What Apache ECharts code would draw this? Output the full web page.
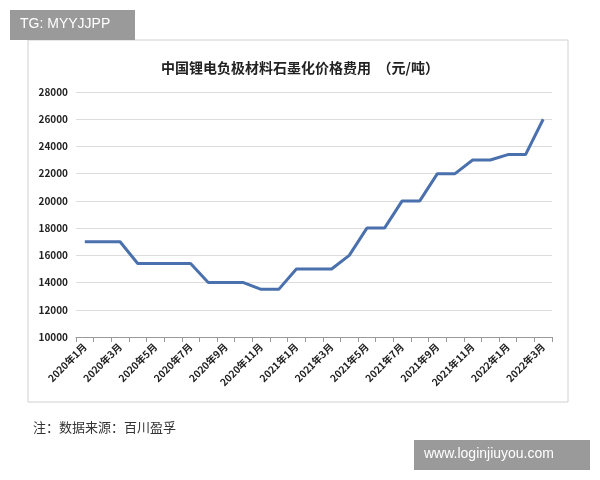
<!DOCTYPE html>
<html><head><meta charset="utf-8">
<script src="https://cdn.jsdelivr.net/npm/echarts@6/dist/echarts.min.js"></script>
<style>body{margin:0;background:#fff}#c{width:600px;height:480px}</style>
</head><body><div id="c"></div>
<script>
const categories=["2020年1月","2020年2月","2020年3月","2020年4月","2020年5月","2020年6月","2020年7月","2020年8月","2020年9月","2020年10月","2020年11月","2020年12月","2021年1月","2021年2月","2021年3月","2021年4月","2021年5月","2021年6月","2021年7月","2021年8月","2021年9月","2021年10月","2021年11月","2021年12月","2022年1月","2022年2月","2022年3月"];
const prices=[17000,17000,17000,15400,15400,15400,15400,14000,14000,14000,13500,13500,15000,15000,15000,16000,18000,18000,20000,20000,22000,22000,23000,23000,23400,23400,26000];
const chart=echarts.init(document.getElementById('c'));
const serif='"Noto Sans CJK SC", serif';
chart.setOption({
  animation:false,
  title:{text:'中国锂电负极材料石墨化价格费用  （元/吨）',left:'center',top:56,textStyle:{fontFamily:serif,fontSize:14,fontWeight:'bold',color:'#222'}},
  graphic:[
    {type:'rect',shape:{x:28,y:40,width:540,height:362},style:{fill:'none',stroke:'#d0d0d0',lineWidth:1}},
    {type:'rect',shape:{x:10,y:10,width:125,height:30},style:{fill:'#9a9a9a'}},
    {type:'text',left:20,top:17,style:{text:'TG: MYYJJPP',fill:'#fff',font:'14px sans-serif'}},
    {type:'text',left:33,top:421,style:{text:'注：数据来源：百川盈孚',fill:'#333',font:'13px "Noto Sans CJK SC", serif'}},
    {type:'rect',shape:{x:414,y:440,width:176,height:30},style:{fill:'#9a9a9a'}},
    {type:'text',left:424,top:447,style:{text:'www.loginjiuyou.com',fill:'#fff',font:'14px sans-serif'}}
  ],
  grid:{left:76,right:48,top:92,bottom:143},
  xAxis:{type:'category',data:categories,boundaryGap:true,
    axisLine:{lineStyle:{color:'#999'}},axisTick:{show:true,interval:0,lineStyle:{color:'#999'}},
    axisLabel:{interval:1,rotate:45,fontSize:10,fontWeight:'bold',color:'#222',fontFamily:serif}},
  yAxis:{type:'value',min:10000,max:28000,interval:2000,
    axisLine:{show:false},axisTick:{show:false},
    splitLine:{lineStyle:{color:'#dcdcdc'}},
    axisLabel:{fontSize:10,fontWeight:'bold',color:'#222',fontFamily:serif,margin:8,formatter:v=>String(v)}},
  series:[{type:'line',data:prices,symbol:'none',lineStyle:{color:'#4a70ad',width:3}}]
});
</script></body></html>
